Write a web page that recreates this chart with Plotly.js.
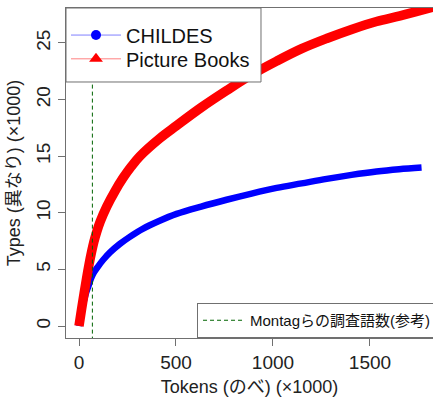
<!DOCTYPE html>
<html>
<head>
<meta charset="utf-8">
<script src="https://cdn.plot.ly/plotly-3.0.1.min.js"></script>
<style>html,body{margin:0;padding:0;background:#fff;}#chart{width:433px;height:397px;}</style>
</head>
<body>
<div id="chart"></div>
<script>
// Data (×1000)
var childesTokens = [0, 12, 25, 36, 48, 60, 74, 98, 125, 160, 211, 260, 331, 410, 503, 630, 761, 890, 1019, 1148, 1277, 1405, 1534, 1650, 1766];
var childesTypes  = [0, 1.3, 2.2, 2.9, 3.5, 4.1, 4.65, 5.25, 5.85, 6.5, 7.25, 7.85, 8.6, 9.25, 9.9, 10.55, 11.15, 11.7, 12.2, 12.6, 13.0, 13.35, 13.65, 13.85, 14.0];
var booksTokens = [0, 13, 26, 39, 52, 65, 77, 91, 110, 143, 185, 228, 270, 314, 418, 503, 630, 761, 890, 1019, 1148, 1277, 1405, 1534, 1655, 1830];
var booksTypes  = [0, 1.45, 2.85, 4.2, 5.45, 6.55, 7.45, 8.3, 9.25, 10.55, 11.9, 13.1, 14.1, 15.0, 16.6, 17.7, 19.3, 20.8, 22.2, 23.4, 24.5, 25.4, 26.2, 26.9, 27.4, 28.2];
var montagTokens = 69;
var xTicks = [0, 500, 1000, 1500];
var yTicks = [0, 5, 10, 15, 20, 25];
var seriesNames = ['CHILDES', 'Picture Books'];
var montagName = 'Montagらの調査語数(参考)';

var FONT = '"Liberation Sans", Arial, "Noto Sans CJK JP", sans-serif';
var BOX = '#707070';

var traces = [
  {x: childesTokens, y: childesTypes, mode: 'lines', line: {color: '#0000ff', width: 6.5, shape: 'spline', smoothing: 1}, showlegend: false, hoverinfo: 'skip'},
  {x: booksTokens, y: booksTypes, mode: 'lines', line: {color: '#ff0000', width: 9.5, shape: 'spline', smoothing: 1}, showlegend: false, hoverinfo: 'skip'},
  {x: [montagTokens, montagTokens], y: [-5, 40], mode: 'lines', line: {color: '#006400', width: 1, dash: '4px,3px'}, name: montagName, legend: 'legend2', hoverinfo: 'skip'},
  {x: [null], y: [null], mode: 'lines+markers', name: seriesNames[0], line: {color: '#8080ff', width: 1}, marker: {color: '#0000ff', symbol: 'circle', size: 10}, legend: 'legend'},
  {x: [null], y: [null], mode: 'lines+markers', name: seriesNames[1], line: {color: '#ff8080', width: 1}, marker: {color: '#ff0000', symbol: 'triangle-up', size: 12}, legend: 'legend3'}
];

var axisCommon = {
  showgrid: false, zeroline: false, showline: true, mirror: true,
  linecolor: BOX, linewidth: 1, ticks: 'outside', ticklen: 7, tickcolor: BOX,
  tickfont: {family: FONT, size: 19, color: '#222'}
};

var legendCommon = {
  x: 0, xanchor: 'left', yanchor: 'middle', bgcolor: 'rgba(0,0,0,0)', borderwidth: 0,
  font: {family: FONT, size: 20, color: '#111'}, itemwidth: 50
};

var layout = {
  width: 433, height: 397,
  margin: {l: 66, r: 0, t: 8, b: 59, autoexpand: false},
  paper_bgcolor: '#fff', plot_bgcolor: '#fff',
  font: {family: FONT, color: '#222'},
  xaxis: Object.assign({}, axisCommon, {
    range: [-67, 1825], tickmode: 'array', tickvals: xTicks, ticktext: xTicks.map(String),
    title: {text: 'Tokens (のべ) (×1000)', font: {family: FONT, size: 18, color: '#222'}}
  }),
  yaxis: Object.assign({}, axisCommon, {
    range: [-1.06, 28.09], tickmode: 'array', tickvals: yTicks, ticktext: yTicks.map(String), tickangle: -90,
    title: {text: 'Types (異なり) (×1000)', font: {family: FONT, size: 18, color: '#222'}}
  }),
  // legend frame (drawn above the curves, below the legend text)
  shapes: [{
    type: 'rect', xref: 'paper', yref: 'paper', x0: 0, x1: 0.5313, y0: 0.7758, y1: 1,
    fillcolor: '#fff', line: {color: BOX, width: 1}, layer: 'above'
  }],
  legend: Object.assign({}, legendCommon, {y: 0.918}),
  legend3: Object.assign({}, legendCommon, {y: 0.846}),
  legend2: {
    x: 0.357, y: 0, xanchor: 'left', yanchor: 'bottom', bgcolor: '#fff', bordercolor: BOX, borderwidth: 1,
    font: {family: FONT, size: 15, color: '#111'}, itemwidth: 42
  },
  showlegend: true
};

Plotly.newPlot('chart', traces, layout, {displayModeBar: false, staticPlot: true});
</script>
</body>
</html>
